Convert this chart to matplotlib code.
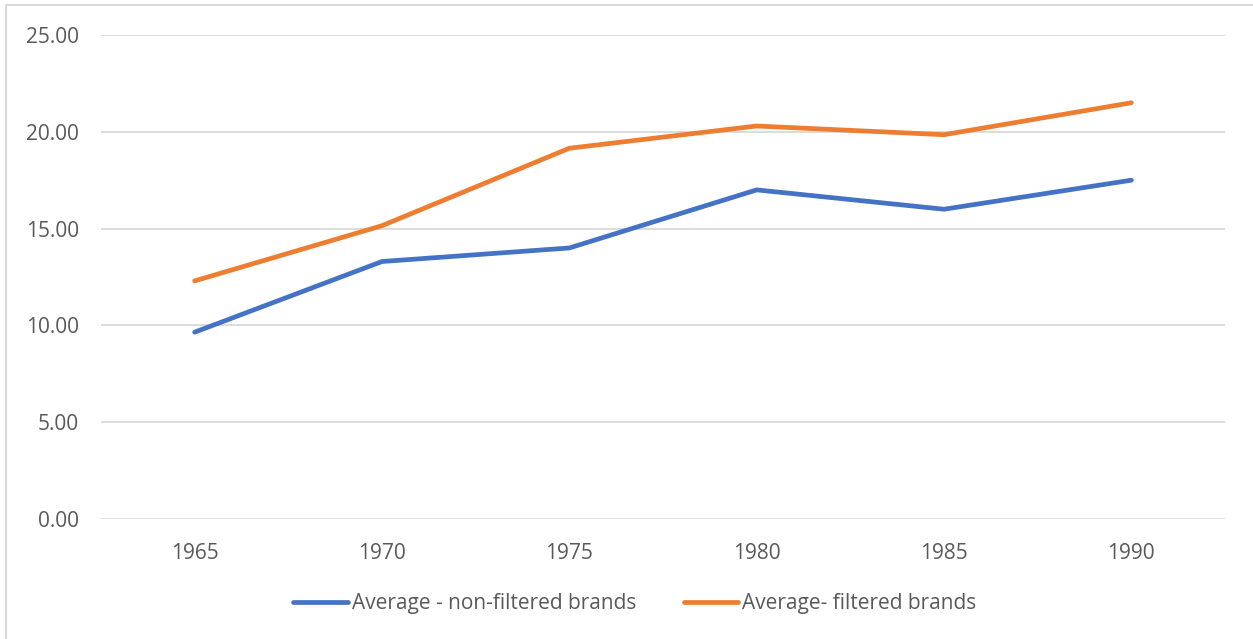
import matplotlib.pyplot as plt
from matplotlib.patches import Rectangle

# données
years = ["1965", "1970", "1975", "1980", "1985", "1990"]
non_filtered = [9.65, 13.3, 14.0, 17.0, 16.0, 17.5]
filtered = [12.3, 15.15, 19.15, 20.3, 19.85, 21.5]
labels = ["Average - non-filtered brands", "Average- filtered brands"]

blue = "#4472C4"
orange = "#ED7D31"
grid_col = "#D9D9D9"
text_col = "#595959"

plt.rcParams['font.family'] = ['Open Sans', 'DejaVu Sans']

fig = plt.figure(figsize=(12.53, 6.39), dpi=100)
ax = fig.add_axes([101 / 1253, 1 - 519 / 639, 1124 / 1253, 484 / 639])

x = range(len(years))
ax.plot(x, non_filtered, color=blue, lw=3.4, label=labels[0], solid_capstyle='round')
ax.plot(x, filtered, color=orange, lw=3.4, label=labels[1], solid_capstyle='round')

ax.set_xlim(-0.5, len(years) - 0.5)
ax.set_ylim(0, 25)
ax.set_yticks([0, 5, 10, 15, 20, 25])
ax.set_yticklabels([f"{v:.2f}" for v in [0, 5, 10, 15, 20, 25]])
ax.set_xticks(list(x))
ax.set_xticklabels(years)

ax.grid(axis='y', color=grid_col, lw=1.3)
ax.set_axisbelow(True)
for s in ax.spines.values():
    s.set_visible(False)
ax.tick_params(axis='both', length=0, labelsize=15, colors=text_col)
ax.tick_params(axis='y', pad=16)
ax.tick_params(axis='x', pad=17)

leg = fig.legend(loc='center', bbox_to_anchor=(635 / 1253, 1 - 604 / 639), ncol=2,
                 frameon=False, fontsize=15, handlelength=2.6, handletextpad=0.2,
                 columnspacing=2.3)
for t in leg.get_texts():
    t.set_color(text_col)

# cadre gris du graphique
fig.patches.append(Rectangle((6 / 1253, -0.1), 1.2, 1.1 - 5 / 639, transform=fig.transFigure,
                             fill=False, edgecolor=grid_col, lw=1.5))

fig.savefig("out.png", dpi=100)
